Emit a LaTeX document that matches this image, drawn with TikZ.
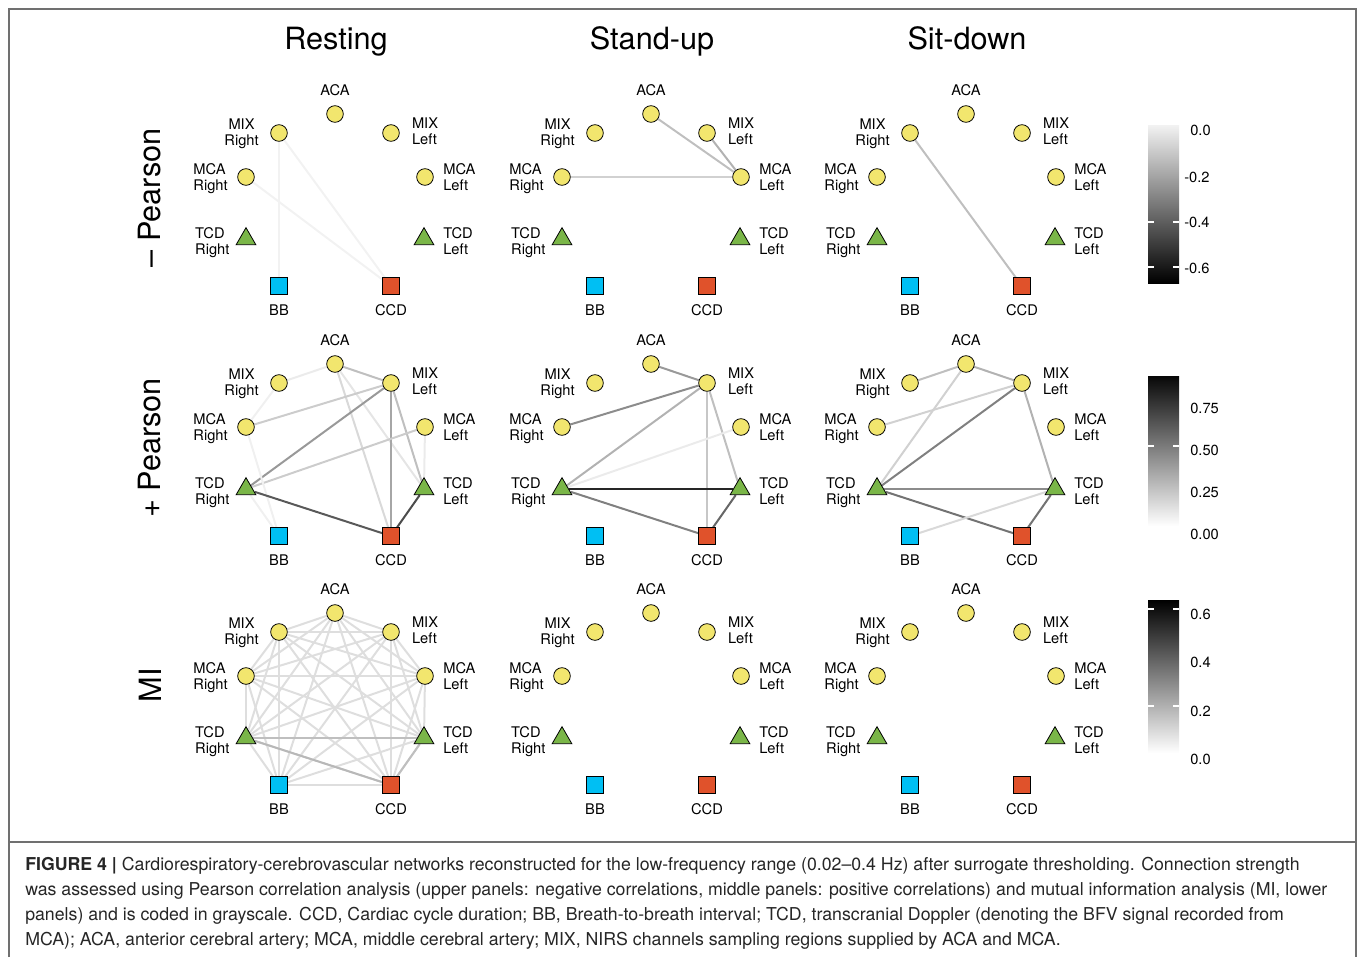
\documentclass[tikz,border=0pt]{standalone}
\usepackage{fontspec}
\setmainfont{TeX Gyre Heros}
\usetikzlibrary{shapes.geometric,backgrounds}

\definecolor{nodeyellow}{HTML}{F2E66E}
\definecolor{nodegreen}{HTML}{7AB648}
\definecolor{nodeblue}{HTML}{00BFF3}
\definecolor{nodered}{HTML}{E0522B}
\definecolor{framegray}{HTML}{707070}

\tikzset{
  circ/.style={circle, draw=black, line width=0.6pt, fill=nodeyellow, minimum size=12.5pt, inner sep=0pt},
  tri/.style={regular polygon, regular polygon sides=3, draw=black, line width=0.6pt, fill=nodegreen, minimum size=17pt, inner sep=0pt},
  sqb/.style={rectangle, draw=black, line width=0.6pt, fill=nodeblue, minimum size=12.5pt, inner sep=0pt},
  sqr/.style={rectangle, draw=black, line width=0.6pt, fill=nodered, minimum size=12.5pt, inner sep=0pt},
  lab/.style={font=\fontsize{11}{12}\selectfont, inner sep=1pt},
  link/.style={line width=1.5pt, draw=black!#1},
  ttl/.style={font=\fontsize{23}{28}\selectfont},
  barlab/.style={font=\fontsize{11}{12}\selectfont, anchor=west, inner sep=0pt}
}

% one network panel: prefix, x shift, y shift
\newcommand{\netpanel}[3]{%
  \begin{scope}[shift={(#2,#3)}]
    \node[circ, label={[lab]above:ACA}] (#1-aca) at (335,114) {};
    \node[circ, label={[lab,align=center,yshift=-0.75pt,xshift=-1.5pt]left:{MIX\\Right}}] (#1-mixr) at (279,133) {};
    \node[circ, label={[lab,align=left,yshift=1.5pt,xshift=2pt]right:{MIX\\Left}}] (#1-mixl) at (391,133) {};
    \node[circ, label={[lab,align=left,yshift=-1.5pt]left:{MCA\\Right}}] (#1-mcar) at (246,177) {};
    \node[circ, label={[lab,align=left]right:{MCA\\Left}}] (#1-mcal) at (425,177) {};
    \node[tri, label={[lab,align=left,yshift=-3pt]left:{TCD\\Right}}] (#1-tcdr) at (246,239) {};
    \node[tri, label={[lab,align=left,yshift=-1.5pt,xshift=2pt]right:{TCD\\Left}}] (#1-tcdl) at (424,239) {};
    \node[sqb, label={[lab]below:BB}] (#1-bb) at (279,286) {};
    \node[sqr, label={[lab]below:CCD}] (#1-ccd) at (391,286) {};
  \end{scope}}

\begin{document}
\begin{tikzpicture}[x=0.75pt, y=-0.75pt, label distance=6pt]
  \useasboundingbox (0,0) rectangle (1360,957);
  \draw[framegray, line width=0.8pt] (9,957) |- (1356,9) -- (1356,957);
  \draw[framegray, line width=0.8pt] (9,842) -- (1356,842);

  % column titles
  \node[ttl, anchor=base] (rest) at (336,49) {Resting};
  \node[ttl, anchor=base] (stand) at (652,49) {Stand-up};
  \node[ttl, anchor=base] (sit) at (967,49) {Sit-down};

  % row titles
  \node[ttl, rotate=90] (negrow) at (150,198) {– Pearson};
  \node[ttl, rotate=90] (posrow) at (150,448) {+ Pearson};
  \node[ttl, rotate=90] (mirow) at (150,685) {MI};

  % the nine networks
  \netpanel{rn}{0}{0}
  \netpanel{sn}{316}{0}
  \netpanel{dn}{631}{0}
  \netpanel{rp}{0}{250}
  \netpanel{sp}{316}{250}
  \netpanel{dp}{631}{250}
  \netpanel{rm}{0}{499}
  \netpanel{sm}{316}{499}
  \netpanel{dm}{631}{499}

  \begin{pgfonlayer}{background}
    % negative Pearson
    \draw[link=5] (rn-mixr) -- (rn-bb);
    \draw[link=5] (rn-mixr) -- (rn-ccd);
    \draw[link=5] (rn-mcar) -- (rn-ccd);
    \draw[link=25] (sn-aca) -- (sn-mcal);
    \draw[link=30] (sn-mixl) -- (sn-mcal);
    \draw[link=18] (sn-mcar) -- (sn-mcal);
    \draw[link=25] (dn-mixr) -- (dn-ccd);
    % positive Pearson
    \draw[link=8] (rp-aca) -- (rp-mixr);
    \draw[link=25] (rp-aca) -- (rp-mixl);
    \draw[link=15] (rp-aca) -- (rp-ccd);
    \draw[link=10] (rp-aca) -- (rp-tcdl);
    \draw[link=6] (rp-mixr) -- (rp-mcar);
    \draw[link=20] (rp-mixl) -- (rp-mcar);
    \draw[link=40] (rp-mixl) -- (rp-tcdr);
    \draw[link=35] (rp-mixl) -- (rp-ccd);
    \draw[link=25] (rp-mixl) -- (rp-tcdl);
    \draw[link=20] (rp-mcal) -- (rp-tcdr);
    \draw[link=8] (rp-mcal) -- (rp-tcdl);
    \draw[link=6] (rp-mcar) -- (rp-bb);
    \draw[link=6] (rp-tcdr) -- (rp-bb);
    \draw[link=65] (rp-tcdr) -- (rp-ccd);
    \draw[link=70] (rp-tcdl) -- (rp-ccd);
    \draw[link=40] (sp-aca) -- (sp-mixl);
    \draw[link=45] (sp-mixl) -- (sp-mcar);
    \draw[link=30] (sp-mixl) -- (sp-tcdr);
    \draw[link=22] (sp-mixl) -- (sp-ccd);
    \draw[link=25] (sp-mixl) -- (sp-tcdl);
    \draw[link=8] (sp-mcal) -- (sp-tcdr);
    \draw[link=85] (sp-tcdr) -- (sp-tcdl);
    \draw[link=50] (sp-tcdr) -- (sp-ccd);
    \draw[link=60] (sp-tcdl) -- (sp-ccd);
    \draw[link=25] (dp-aca) -- (dp-mixr);
    \draw[link=30] (dp-aca) -- (dp-mixl);
    \draw[link=18] (dp-aca) -- (dp-tcdr);
    \draw[link=18] (dp-mixl) -- (dp-mcar);
    \draw[link=50] (dp-mixl) -- (dp-tcdr);
    \draw[link=30] (dp-mixl) -- (dp-tcdl);
    \draw[link=45] (dp-tcdr) -- (dp-tcdl);
    \draw[link=55] (dp-tcdr) -- (dp-ccd);
    \draw[link=15] (dp-tcdl) -- (dp-bb);
    \draw[link=55] (dp-tcdl) -- (dp-ccd);
    % mutual information, resting
    \foreach \u [count=\i] in {aca,mixr,mixl,mcar,mcal,tcdr,tcdl,bb,ccd}
      \foreach \v [count=\j] in {aca,mixr,mixl,mcar,mcal,tcdr,tcdl,bb,ccd}
        {\ifnum\j>\i \draw[link=13] (rm-\u) -- (rm-\v); \fi}
    \draw[link=25] (rm-tcdr) -- (rm-tcdl);
    \draw[link=28] (rm-tcdr) -- (rm-ccd);
    \draw[link=25] (rm-tcdl) -- (rm-ccd);
  \end{pgfonlayer}

  % colour bars
  \shade[top color=black!5, bottom color=black] (1148,125) rectangle (1179,283);
  \draw[white, line width=0.8pt] (1148,222) -- +(6,0) (1179,222) -- +(-6,0)
    (1148,267) -- +(6,0) (1179,267) -- +(-6,0);
  \node[barlab] (n0) at (1190,130) {0.0};
  \node[barlab] (n2) at (1184,177) {-0.2};
  \node[barlab] (n4) at (1184,222) {-0.4};
  \node[barlab] (n6) at (1184,268) {-0.6};

  \shade[top color=black!97, bottom color=white] (1148,376) rectangle (1179,526);
  \draw[white, line width=0.8pt] (1148,446) -- +(6,0) (1179,446) -- +(-6,0);
  \node[barlab] (p75) at (1190,408) {0.75};
  \node[barlab] (p50) at (1190,450) {0.50};
  \node[barlab] (p25) at (1190,492) {0.25};
  \node[barlab] (p00) at (1190,534) {0.00};

  \shade[top color=black, bottom color=white] (1148,600) rectangle (1179,753);
  \draw[white, line width=0.8pt] (1148,609) -- +(6,0) (1179,609) -- +(-6,0)
    (1148,706) -- +(6,0) (1179,706) -- +(-6,0);
  \node[barlab] (m6) at (1190,614) {0.6};
  \node[barlab] (m4) at (1190,662) {0.4};
  \node[barlab] (m2) at (1190,711) {0.2};
  \node[barlab] (m0) at (1190,759) {0.0};

  % caption
  \node[anchor=north west, align=left, inner sep=0pt, text=black!85,
    font=\fontsize{13.3}{18.75}\selectfont] (caption) at (25,857)
    {\textbf{FIGURE 4 |} Cardiorespiratory-cerebrovascular networks reconstructed for the low-frequency range (0.02–0.4 Hz) after surrogate thresholding. Connection strength\\
     was assessed using Pearson correlation analysis (upper panels: negative correlations, middle panels: positive correlations) and mutual information analysis (MI, lower\\
     panels) and is coded in grayscale. CCD, Cardiac cycle duration; BB, Breath-to-breath interval; TCD, transcranial Doppler (denoting the BFV signal recorded from\\
     MCA); ACA, anterior cerebral artery; MCA, middle cerebral artery; MIX, NIRS channels sampling regions supplied by ACA and MCA.};
\end{tikzpicture}
\end{document}
